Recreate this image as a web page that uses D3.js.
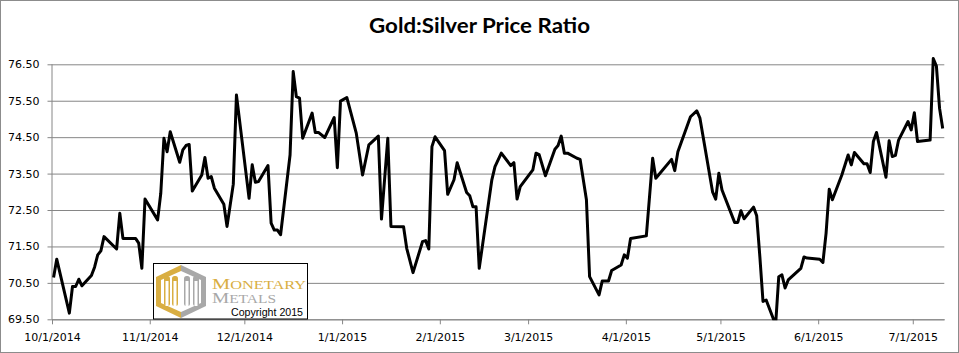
<!DOCTYPE html>
<html>
<head>
<meta charset="utf-8">
<script src="https://cdn.jsdelivr.net/npm/d3@7"></script>
<style>
  html, body { margin: 0; padding: 0; background: #fff; }
  svg { display: block; }
</style>
</head>
<body>
<svg id="chart" width="959" height="353"></svg>
<script>
const title = "Gold:Silver Price Ratio";

const dates = [
  "2014-10-01","2014-10-02","2014-10-06","2014-10-07","2014-10-08","2014-10-09","2014-10-10",
  "2014-10-13","2014-10-14","2014-10-15","2014-10-16","2014-10-17","2014-10-21","2014-10-22",
  "2014-10-23","2014-10-24","2014-10-27","2014-10-28","2014-10-29","2014-10-30","2014-11-03",
  "2014-11-04","2014-11-05","2014-11-06","2014-11-07","2014-11-10","2014-11-11","2014-11-12",
  "2014-11-13","2014-11-14","2014-11-17","2014-11-18","2014-11-19","2014-11-20","2014-11-21",
  "2014-11-24","2014-11-25","2014-11-27","2014-11-28","2014-12-02","2014-12-03","2014-12-04",
  "2014-12-05","2014-12-08","2014-12-09","2014-12-10","2014-12-11","2014-12-12","2014-12-15",
  "2014-12-16","2014-12-17","2014-12-18","2014-12-19","2014-12-22","2014-12-23","2014-12-24",
  "2014-12-26","2014-12-29","2014-12-30","2014-12-31","2015-01-02","2015-01-05","2015-01-07",
  "2015-01-09","2015-01-12","2015-01-13","2015-01-15","2015-01-16","2015-01-20","2015-01-21",
  "2015-01-23","2015-01-26","2015-01-27","2015-01-28","2015-01-29","2015-01-30","2015-02-02",
  "2015-02-03","2015-02-05","2015-02-06","2015-02-09","2015-02-10","2015-02-11","2015-02-12",
  "2015-02-13","2015-02-17","2015-02-18","2015-02-20","2015-02-23","2015-02-24","2015-02-25",
  "2015-02-26","2015-03-02","2015-03-03","2015-03-04","2015-03-06","2015-03-09","2015-03-10",
  "2015-03-11","2015-03-12","2015-03-13","2015-03-16","2015-03-17","2015-03-19","2015-03-20",
  "2015-03-23","2015-03-24","2015-03-26","2015-03-27","2015-03-30","2015-03-31","2015-04-01",
  "2015-04-02","2015-04-07","2015-04-09","2015-04-10","2015-04-15","2015-04-16","2015-04-17",
  "2015-04-21","2015-04-23","2015-04-24","2015-04-28","2015-04-29","2015-04-30","2015-05-01",
  "2015-05-05","2015-05-06","2015-05-07","2015-05-08","2015-05-11","2015-05-12","2015-05-13",
  "2015-05-14","2015-05-15","2015-05-18","2015-05-19","2015-05-20","2015-05-21","2015-05-22",
  "2015-05-26","2015-05-27","2015-05-28","2015-06-01","2015-06-02","2015-06-03","2015-06-04",
  "2015-06-05","2015-06-08","2015-06-10","2015-06-11","2015-06-12","2015-06-15","2015-06-16",
  "2015-06-17","2015-06-18","2015-06-19","2015-06-22","2015-06-23","2015-06-24","2015-06-25",
  "2015-06-26","2015-06-29","2015-06-30","2015-07-01","2015-07-02","2015-07-06","2015-07-07",
  "2015-07-08","2015-07-09","2015-07-10"
];

const ratio = [
  70.65,71.15,69.67,70.40,70.40,70.60,70.42,
  70.70,70.93,71.27,71.38,71.77,71.43,72.41,
  71.72,71.72,71.72,71.59,70.90,72.80,72.23,
  72.96,74.47,74.10,74.65,73.81,74.15,74.27,
  74.30,73.02,73.46,73.94,73.37,73.42,73.10,
  72.66,72.05,73.21,75.66,72.82,73.74,73.26,
  73.28,73.72,72.14,71.95,71.95,71.82,74.01,
  76.30,75.61,75.57,74.47,75.16,74.63,74.63,
  74.49,75.04,73.66,75.49,75.59,74.61,73.46,
  74.29,74.53,72.25,74.47,72.05,72.04,71.45,
  70.78,71.63,71.66,71.43,74.24,74.51,74.13,
  72.93,73.33,73.80,72.98,72.89,72.59,72.59,
  70.90,73.33,73.69,74.06,73.72,73.80,72.80,
  73.14,73.60,74.06,74.02,73.44,74.17,74.27,
  74.53,74.06,74.06,73.92,73.89,72.78,70.67,
  70.17,70.55,70.55,70.84,70.99,71.27,71.18,
  71.72,71.79,73.92,73.37,73.89,73.58,74.10,
  75.06,75.22,75.02,73.00,72.80,73.51,73.05,
  72.16,72.16,72.48,72.26,72.58,72.34,71.22,
  69.99,70.03,69.35,70.67,70.72,70.36,70.58,
  70.90,71.21,71.18,71.15,71.06,71.86,73.07,
  72.78,73.46,74.01,73.74,74.08,73.77,73.77,
  73.53,74.38,74.63,73.40,74.40,73.97,74.00,
  74.42,74.93,74.70,75.17,74.38,74.42,76.66,
  76.45,75.29,74.74
];

const yTicks = [69.5, 70.5, 71.5, 72.5, 73.5, 74.5, 75.5, 76.5];
const xTickLabels = ["2014-10-01","2014-11-01","2014-12-01","2015-01-01","2015-02-01",
                     "2015-03-01","2015-04-01","2015-05-01","2015-06-01","2015-07-01"];
const xDomain = ["2014-10-01", "2015-07-11"];

(function () {
const parse = d3.utcParse("%Y-%m-%d");
const HALF_DAY = 12 * 3600 * 1000;

const svg = d3.select("#chart");
const W = 959, H = 353;
const plot = { left: 52, right: 944.3, top: 64.3, bottom: 319.3 };

svg.append("rect").attr("x", 0.5).attr("y", 0.5).attr("width", W - 1).attr("height", H - 1)
  .attr("fill", "#fff").attr("stroke", "#8c8c8c").attr("stroke-width", 1);

const x = d3.scaleUtc().domain(xDomain.map(parse)).range([plot.left, plot.right]);
const y = d3.scaleLinear().domain([69.5, 76.5]).range([plot.bottom, plot.top]);

// title
svg.append("text").attr("x", 369).attr("y", 33)
  .attr("font-family", "Lato, 'Open Sans', sans-serif").attr("font-weight", "bold")
  .attr("font-size", 20).attr("fill", "#000")
  .attr("textLength", 221).attr("lengthAdjust", "spacingAndGlyphs").text(title);

// y axis gridlines + labels
const yAxis = d3.axisLeft(y).tickValues(yTicks).tickFormat(d3.format(".2f"))
  .tickSize(-(plot.right - plot.left + 4.5)).tickPadding(8);
const gy = svg.append("g").attr("transform", `translate(${plot.left - 4.5},0)`).call(yAxis);
gy.select(".domain").remove();
gy.selectAll(".tick line").attr("stroke", "#868686").attr("stroke-width", 1);
gy.selectAll(".tick text").attr("font-family", "'DejaVu Sans', Verdana, sans-serif")
  .attr("font-size", 11).attr("fill", "#000");

// vertical axis line
svg.append("line").attr("x1", plot.left).attr("x2", plot.left)
  .attr("y1", plot.top).attr("y2", plot.bottom).attr("stroke", "#868686");

// x axis
const xAxis = d3.axisBottom(x).tickValues(xTickLabels.map(parse))
  .tickFormat(d3.utcFormat("%-m/%-d/%Y")).tickSize(5).tickSizeOuter(0).tickPadding(9);
const gx = svg.append("g").attr("transform", `translate(0,${plot.bottom})`).call(xAxis);
gx.select(".domain").attr("stroke", "#868686");
gx.selectAll(".tick line").attr("stroke", "#868686");
gx.selectAll(".tick text").attr("font-family", "'DejaVu Sans', Verdana, sans-serif")
  .attr("font-size", 11).attr("fill", "#000");

// clip
svg.append("clipPath").attr("id", "plotclip").append("rect")
  .attr("x", plot.left).attr("y", plot.top - 10)
  .attr("width", plot.right - plot.left + 4).attr("height", plot.bottom - plot.top + 11);

const data = dates.map((d, i) => ({ date: new Date(parse(d).getTime() + HALF_DAY), v: ratio[i] }));
const line = d3.line().x(d => x(d.date)).y(d => y(d.v));
svg.append("path").datum(data).attr("d", line).attr("clip-path", "url(#plotclip)")
  .attr("fill", "none").attr("stroke", "#000").attr("stroke-width", 3)
  .attr("stroke-linejoin", "round").attr("stroke-linecap", "butt");

// logo
const logo = svg.append("g");
logo.append("rect").attr("x", 153.5).attr("y", 263.5).attr("width", 154).attr("height", 55.5)
  .attr("fill", "#fff").attr("stroke", "#000").attr("stroke-width", 1);
const gold = "#D9AE42", grey = "#A8A8A8";
const hx = 181, hTop = 265, hBot = 318, hL = 156, hR = 206, hU = 277, hD = 306;
logo.append("polygon").attr("points", `${hx},${hTop} ${hL},${hU} ${hL},${hD} ${hx},${hBot}`).attr("fill", gold);
logo.append("polygon").attr("points", `${hx},${hTop} ${hR},${hU} ${hR},${hD} ${hx},${hBot}`).attr("fill", grey);
logo.append("polygon").attr("points", `${hx},${hTop+6} ${hL+5},${hU+3} ${hL+5},${hD-3} ${hx},${hBot-6} ${hR-5},${hD-3} ${hR-5},${hU+3}`).attr("fill", "#fff");
[[164, gold], [172, gold], [184, grey], [193, grey]].forEach(([px, c]) => {
  logo.append("rect").attr("x", px).attr("y", 276).attr("width", 6).attr("height", 30).attr("rx", 2.5).attr("fill", c);
  logo.append("rect").attr("x", px + 1.5).attr("y", 281).attr("width", 3).attr("height", 25).attr("fill", "#fff");
});

const t1 = logo.append("text").attr("x", 212).attr("y", 288.5)
  .attr("font-family", "'Liberation Serif', 'DejaVu Serif', serif").attr("fill", gold)
  .attr("textLength", 94).attr("lengthAdjust", "spacingAndGlyphs");
t1.append("tspan").attr("font-size", 15).text("M");
t1.append("tspan").attr("font-size", 12).text("ONETARY");
const t2 = logo.append("text").attr("x", 212).attr("y", 303)
  .attr("font-family", "'Liberation Serif', 'DejaVu Serif', serif").attr("fill", grey)
  .attr("textLength", 64).attr("lengthAdjust", "spacingAndGlyphs");
t2.append("tspan").attr("font-size", 15).text("M");
t2.append("tspan").attr("font-size", 12).text("ETALS");
logo.append("text").attr("x", 231).attr("y", 315.5)
  .attr("font-family", "'Liberation Sans', Arial, sans-serif").attr("font-size", 11)
  .attr("textLength", 72).attr("lengthAdjust", "spacingAndGlyphs")
  .attr("fill", "#000").text("Copyright 2015");
})();
</script>
</body>
</html>
